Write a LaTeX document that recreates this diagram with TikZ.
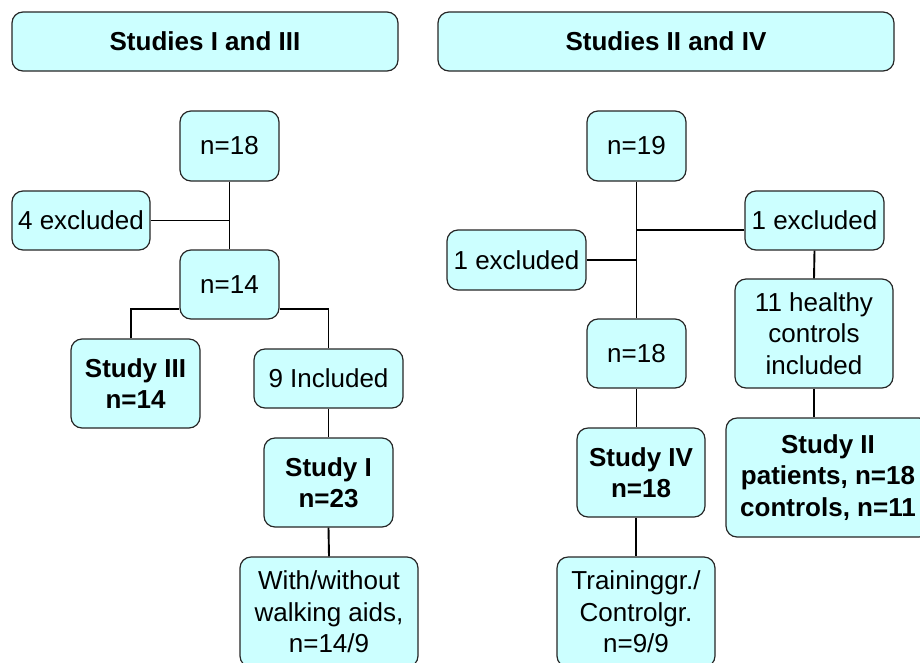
\documentclass[tikz,border=0pt]{standalone}
\usepackage{fontspec}
\setmainfont{Liberation Sans}
\definecolor{boxfill}{RGB}{204,255,255}
\begin{document}
\begin{tikzpicture}[x=1pt,y=-1pt,
  box/.style={draw=black!85, line width=1.2pt, fill=boxfill, rounded corners=11pt,
    align=center, inner sep=0pt, font=\fontsize{26}{31.5}\selectfont},
  boldbox/.style={box, font=\fontsize{26}{31.5}\selectfont\bfseries},
  link/.style={draw=black, line width=1.9pt}]
\useasboundingbox (0,0) rectangle (920,662);
\clip (0,0) rectangle (920,662);
% titles
\node[boldbox, minimum width=386pt, minimum height=59pt] (t1) at (205,41.5) {Studies I and III};
\node[boldbox, minimum width=456pt, minimum height=59pt] (t2) at (666,41.5) {Studies II and IV};
% left tree
\node[box, minimum width=99pt, minimum height=70pt] (a18) at (229.5,146) {n=18};
\node[box, minimum width=138pt, minimum height=59pt] (ex4) at (81,220.5) {4 excluded};
\node[box, minimum width=99pt, minimum height=69pt] (a14) at (229.5,284.5) {n=14};
\node[boldbox, minimum width=129pt, minimum height=89pt] (s3) at (135.5,383.5) {Study III\\n=14};
\node[box, minimum width=149pt, minimum height=59pt] (inc9) at (328.5,378.5) {9 Included};
\node[boldbox, minimum width=129pt, minimum height=89pt] (s1) at (328.5,482.5) {Study I\\n=23};
\node[box, minimum width=178pt, minimum height=110pt] (walk) at (329,612) {With/without\\walking aids,\\n=14/9};
% right tree
\node[box, minimum width=99pt, minimum height=70pt] (b19) at (636.5,146) {n=19};
\node[box, minimum width=139pt, minimum height=59pt] (exR) at (814.5,220.5) {1 excluded};
\node[box, minimum width=139pt, minimum height=60pt] (exL) at (516.5,260) {1 excluded};
\node[box, minimum width=99pt, minimum height=69pt] (b18) at (636.5,353.5) {n=18};
\node[box, minimum width=158pt, minimum height=109pt] (healthy) at (814,333.5) {11 healthy\\controls\\included};
\node[boldbox, minimum width=128pt, minimum height=89pt] (s4) at (641,472.5) {Study IV\\n=18};
\node[box, minimum width=158pt, minimum height=110pt] (train) at (636,612) {Traininggr./\\Controlgr.\\n=9/9};
\node[boldbox, minimum width=204pt, minimum height=119pt] (s2) at (828,477.5) {Study II\\patients, n=18\\controls, n=11};
% connectors left
\draw[link] (a18.south) -- (a14.north);
\draw[link] (ex4.east) -- (ex4.east -| a18.south);
\draw[link] ([xshift=-4.5pt]s3.north) |- ([yshift=-24.5pt]a14.west);
\draw[link] (inc9.north) |- ([yshift=-24.5pt]a14.east);
\draw[link] (inc9.south) -- (s1.north);
\draw[link] (s1.south) -- (walk.north);
% connectors right
\draw[link] (b19.south) -- (b18.north);
\draw[link] ([yshift=-9.5pt]exR.west) -- ([yshift=-9.5pt]exR.west -| b19.south);
\draw[link] (exL.east) -- (exL.east -| b19.south);
\draw[link] (exR.south) -- (healthy.north);
\draw[link] (healthy.south) -- (healthy.south |- s2.north);
\draw[link] (b18.south) -- (b18.south |- s4.north);
\draw[link] (s4.south -| train.north) -- (train.north);
\end{tikzpicture}
\end{document}
